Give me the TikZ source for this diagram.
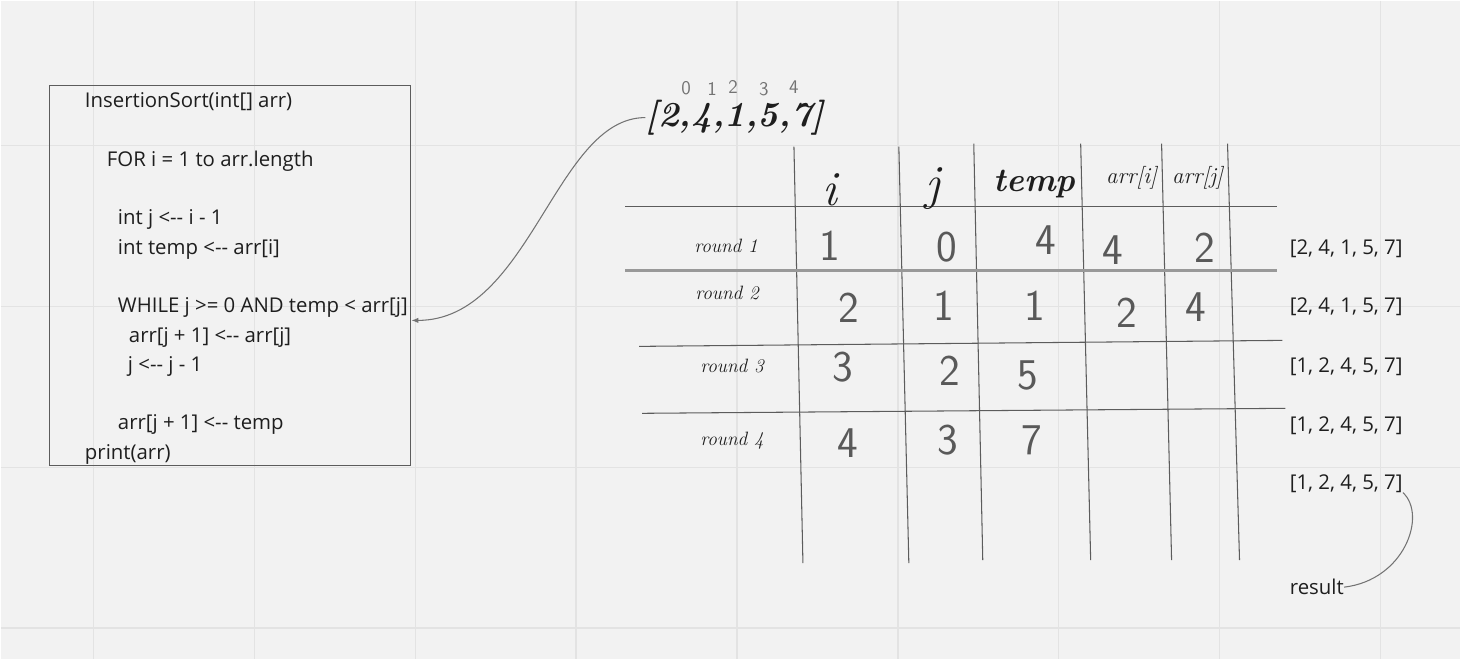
\documentclass[tikz,border=0pt]{standalone}
\usepackage{fontspec}
\usepackage{tikz}
\usetikzlibrary{arrows.meta}

\newfontfamily\codefont{Open Sans}
\newcommand\lar{<\mbox{-}\mbox{-}}
\definecolor{board}{HTML}{F2F2F2}
\definecolor{gridline}{HTML}{E3E3E3}
\definecolor{ink}{HTML}{1E1E1E}
\definecolor{rule}{HTML}{5C5C5C}

\begin{document}
\begin{tikzpicture}[x=0.02cm, y=-0.02cm, >={Latex[length=4pt,width=3pt]},
  code/.style={anchor=base west, inner sep=0pt, text=ink, font=\codefont\fontsize{11.6}{14}\selectfont},
  hand/.style={inner sep=0pt, text=ink, font=\itshape\fontsize{#1}{#1}\selectfont},
  hand/.default=11,
  digit/.style={inner sep=0pt, text=black!65, font=\sffamily\fontsize{25}{25}\selectfont},
  index/.style={inner sep=0pt, text=black!55, font=\sffamily\fontsize{11}{11}\selectfont},
  tline/.style={draw=rule, line width=0.6pt},
  link/.style={draw=black!55, line width=0.6pt}]

  % 1. whiteboard with grid
  \fill[board] (0,0) rectangle (1461,659);
  \foreach \gx in {93,254,...,1381}
    \draw[gridline, line width=0.8pt] (\gx,0) -- (\gx,659);
  \foreach \gy in {145,306,467,628}
    \draw[gridline, line width=0.8pt] (0,\gy) -- (1461,\gy);
  \useasboundingbox (0,0) rectangle (1461,659);

  % 2. pseudo code box
  \node[draw=rule, line width=0.6pt, minimum width=7.22cm, minimum height=7.6cm, inner sep=0pt] (box) at (229.5,275) {};
  \foreach \n/\lx/\ly/\txt in {
      1/84/107.3/{InsertionSort(int[] arr)},
      2/106/166/{FOR i = 1 to arr.length},
      3/117/224.5/{int j \lar{} i - 1},
      4/117/253.8/{int temp \lar{} arr[i]},
      5/117/312.4/{WHILE j >= 0 AND temp < arr[j]},
      6/128/341.7/{arr[j + 1] \lar{} arr[j]},
      7/127/371/{j \lar{} j - 1},
      8/117/429.6/{arr[j + 1] \lar{} temp},
      9/84/458.9/{print(arr)}}
    \node[code] (line\n) at (\lx,\ly) {\txt};

  % 3. input array with indices
  \node[hand=20, font=\bfseries\itshape\fontsize{20}{20}\selectfont] (arr) at (735,117) {[2,4,1,5,7]};
  \foreach \k/\ix/\iy in {0/686/88, 1/712/88, 2/733/86, 3/764/89, 4/794/87}
    \node[index] (idx\k) at (\ix,\iy) {\k};
  \coordinate (hook) at (411,320);
  \draw[->, link] (arr.west) .. controls (555,117) and (530,320) .. (hook);

  % 4. trace table
  \foreach \xa/\ya/\xb/\yb in {794/146/803/563, 899/146/909/563, 974/143/983/560,
                               1081/143/1091/560, 1162/143/1172/560, 1228/143/1240/560}
    \draw[tline] (\xa,\ya) -- (\xb,\yb);
  \draw[tline] (625,206) -- (1278,206);
  \draw[tline, draw=black!40, line width=1.2pt] (625,270) -- (1278,270);
  \draw[tline] (639,346) -- (1283,340);
  \draw[tline] (642,413) -- (1286,408);

  % headers
  \node[hand=28] (hi) at (830,189) {i};
  \node[hand=28] (hj) at (933,188) {j};
  \node[hand=19, font=\bfseries\itshape\fontsize{19}{19}\selectfont] (htemp) at (1035,183) {temp};
  \node[hand=13] (harri) at (1132,177) {arr[i]};
  \node[hand=13] (harrj) at (1198,177) {arr[j]};

  % row labels
  \foreach \r/\rx/\ry in {1/726/245, 2/727/293, 3/732/366, 4/732/440}
    \node[hand] (round\r) at (\rx,\ry) {round \r};

  % cell values
  \foreach \c/\cx/\cy/\v in {a1/830/245/1, b1/947/247/0, c1/1046/240/4, d1/1113/250/4, e1/1205/247/2,
                             a2/849/307/2, b2/944/305/1, c2/1035/305/1, d2/1127/312/2, e2/1196/307/4,
                             a3/843/367/3, b3/950/370/2, c3/1028/375/5,
                             a4/848/443/4, b4/948/440/3, c4/1032/440/7}
    \node[digit] (cell\c) at (\cx,\cy) {\v};

  % 5. array after each round
  \foreach \s/\sy/\txt in {1/248/{[2, 4, 1, 5, 7]}, 2/306.7/{[2, 4, 1, 5, 7]}, 3/366.7/{[1, 2, 4, 5, 7]},
                           4/425/{[1, 2, 4, 5, 7]}, 5/483/{[1, 2, 4, 5, 7]}}
    \node[code, anchor=west] (state\s) at (1290,\sy) {\txt};
  \node[code, anchor=west] (result) at (1290,587) {result};
  \draw[link] (state5.south east) .. controls (1428,515) and (1405,580) .. (result.east);
\end{tikzpicture}
\end{document}
